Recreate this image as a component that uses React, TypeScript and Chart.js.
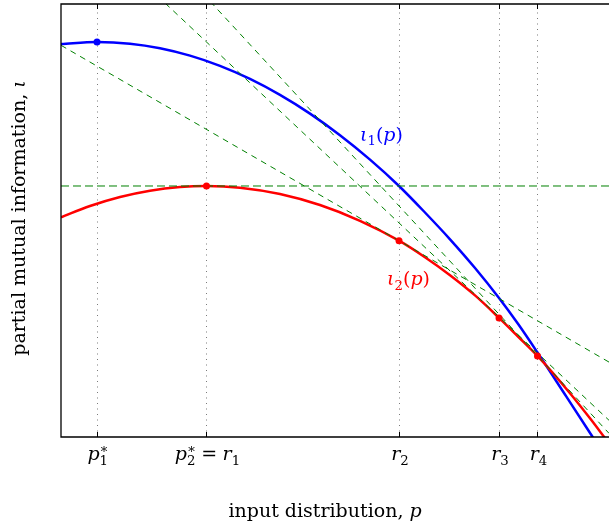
import React, { useEffect, useRef } from "react";
import { Chart, registerables } from "chart.js";

Chart.register(...registerables);

// ---------------- data (abstract units: p along x in [0,1], information along y in [0,1]) ----------------
const blueP = [0, 0.0657, 0.1259, 0.1807, 0.2354, 0.2901, 0.3449, 0.3996, 0.4544, 0.5091, 0.5639, 0.6168, 0.6642, 0.7099, 0.7555, 0.7993, 0.8339, 0.8686, 0.9197, 0.969, 0.9836];
const blueI = [0.9075, 0.9122, 0.9083, 0.8978, 0.8807, 0.8571, 0.8269, 0.7901, 0.7468, 0.6969, 0.6405, 0.5797, 0.5185, 0.4566, 0.3903, 0.321, 0.2614, 0.1968, 0.0982, 0.0023, -0.0266];

const redP = [0, 0.0529, 0.1077, 0.1624, 0.2172, 0.2655, 0.3266, 0.3996, 0.4726, 0.5456, 0.6168, 0.6642, 0.7099, 0.7555, 0.7993, 0.8339, 0.8695, 0.9288, 0.9653, 0.9927];
const redI = [0.5075, 0.5334, 0.5542, 0.5688, 0.5773, 0.5797, 0.5758, 0.5612, 0.5357, 0.4993, 0.4534, 0.4152, 0.3737, 0.327, 0.2751, 0.2321, 0.1873, 0.1012, 0.0432, -0.0025];

// tangent lines, given by their value at p = 0 and p = 1
const tangentP = [0, 1];
const tangentR1 = [0.5797, 0.5797];
const tangentR2 = [0.9046, 0.173];
const tangentR3 = [1.228, 0.0386];
const tangentR4 = [1.379, 0.0085];

const peakP = [0.0657];
const peakI = [0.9122];
const touchP = [0.2655, 0.6168, 0.7993, 0.8695];
const touchI = [0.5797, 0.4534, 0.2751, 0.1873];

const tickValues = [0.0657, 0.2655, 0.6168, 0.7993, 0.8695];
const tickLabels = ["$p₁*$", "$p₂* = r₁$", "$r₂$", "$r₃$", "$r₄$"];
const xTitle = "input distribution, $p$";
const yTitle = "partial mutual information, $ι$";
const curveLabels = ["$ι₁(p)$", "$ι₂(p)$"];
const curveLabelP = [0.5456, 0.595];
const curveLabelI = [0.684, 0.351];

// ---------------- rich text helper ----------------
const FONT = '"DejaVu Serif", "Liberation Serif", serif';
const SUBS: Record<string, string> = {
  "₀": "0", "₁": "1", "₂": "2", "₃": "3", "₄": "4", "₅": "5", "₆": "6", "₇": "7", "₈": "8", "₉": "9",
};
type G = { t: string; font: string; x: number; dy: number };

function layoutRich(ctx: CanvasRenderingContext2D, s: string, size: number) {
  const rm = `${size}px ${FONT}`;
  const it = `italic ${size}px ${FONT}`;
  const sm = `${(size * 0.7).toFixed(1)}px ${FONT}`;
  const glyphs: G[] = [];
  let x = 0;
  let math = false;
  let subStart = -1;
  let subW = 0;
  let buf = "";
  const put = (t: string, font: string, dy: number, at?: number) => {
    ctx.font = font;
    const w = ctx.measureText(t).width;
    glyphs.push({ t, font, x: at ?? x, dy });
    return w;
  };
  const flush = () => {
    if (buf) {
      x += put(buf, rm, 0);
      buf = "";
    }
  };
  for (const ch of Array.from(s)) {
    if (ch === "$") {
      flush();
      math = !math;
      continue;
    }
    if (!math) {
      buf += ch;
      continue;
    }
    if (SUBS[ch]) {
      subStart = x;
      subW = put(SUBS[ch], sm, size * 0.24);
      x += subW;
      continue;
    }
    if (ch === "*") {
      if (subStart >= 0) {
        const w = put("∗", sm, -size * 0.36, subStart);
        x = subStart + Math.max(subW, w);
      } else {
        x += put("∗", sm, -size * 0.36);
      }
      subStart = -1;
      continue;
    }
    subStart = -1;
    if (ch === " ") {
      x += size * 0.28;
      continue;
    }
    if (/[A-Za-z\u03b1-\u03c9]/.test(ch)) x += put(ch, it, 0);
    else x += put(ch, rm, 0);
  }
  flush();
  return { glyphs, width: x };
}

function drawRich(
  ctx: CanvasRenderingContext2D,
  s: string,
  size: number,
  x: number,
  y: number,
  align: "left" | "center",
  color: string
) {
  const { glyphs, width } = layoutRich(ctx, s, size);
  const x0 = align === "center" ? x - width / 2 : x;
  ctx.fillStyle = color;
  ctx.textAlign = "left";
  ctx.textBaseline = "alphabetic";
  for (const g of glyphs) {
    ctx.font = g.font;
    ctx.fillText(g.t, x0 + g.x, y + g.dy);
  }
}

const decorPlugin = {
  id: "decor",
  beforeDatasetsDraw(chart: any) {
    const { ctx, chartArea: a, scales } = chart;
    ctx.save();
    ctx.strokeStyle = "#7a7a7a";
    ctx.lineWidth = 1;
    ctx.setLineDash([1, 4.5]);
    for (const v of tickValues) {
      const px = Math.round(scales.x.getPixelForValue(v)) + 0.5;
      ctx.beginPath();
      ctx.moveTo(px, a.bottom);
      ctx.lineTo(px, a.top);
      ctx.stroke();
    }
    ctx.restore();
  },
  afterDatasetsDraw(chart: any) {
    const { ctx, chartArea: a, scales } = chart;
    ctx.save();
    ctx.setLineDash([]);
    ctx.strokeStyle = "#000";
    ctx.lineWidth = 1.3;
    ctx.beginPath();
    ctx.moveTo(a.right + 2, a.top);
    ctx.lineTo(a.left, a.top);
    ctx.lineTo(a.left, a.bottom);
    ctx.lineTo(a.right + 2, a.bottom);
    ctx.stroke();
    ctx.lineWidth = 1;
    for (const v of tickValues) {
      const px = Math.round(scales.x.getPixelForValue(v)) + 0.5;
      ctx.beginPath();
      ctx.moveTo(px, a.bottom);
      ctx.lineTo(px, a.bottom - 5);
      ctx.moveTo(px, a.top);
      ctx.lineTo(px, a.top + 5);
      ctx.stroke();
    }
    const size = 19;
    tickValues.forEach((v, i) => {
      drawRich(ctx, tickLabels[i], size, scales.x.getPixelForValue(v) + 1, a.bottom + 23, "center", "#000");
    });
    drawRich(ctx, xTitle, size, a.left + 0.4818 * (a.right - a.left), a.bottom + 80, "center", "#000");
    ctx.save();
    ctx.translate(25, (a.top + a.bottom) / 2 - 2.5);
    ctx.rotate(-Math.PI / 2);
    drawRich(ctx, yTitle, size, 0, 0, "center", "#000");
    ctx.restore();
    const colors = ["#0000ff", "#ff0000"];
    curveLabels.forEach((t, i) => {
      drawRich(
        ctx,
        t,
        size,
        scales.x.getPixelForValue(curveLabelP[i]),
        scales.y.getPixelForValue(curveLabelI[i]),
        "left",
        colors[i]
      );
    });
    ctx.restore();
  },
};

const pts = (xs: number[], ys: number[]) => xs.map((x, i) => ({ x, y: ys[i] }));

export default function App() {
  const ref = useRef<HTMLCanvasElement>(null);
  useEffect(() => {
    const canvas = ref.current;
    if (!canvas) return;
    const green = "rgb(0,128,0)";
    const tangent = (vals: number[], dash: number[]) => ({
      data: pts(tangentP, vals),
      showLine: true,
      borderColor: green,
      borderWidth: 1,
      borderDash: dash,
      pointRadius: 0,
      clip: 0,
      order: 1,
    });
    const chart = new Chart(canvas, {
      type: "scatter",
      data: {
        datasets: [
          {
            data: pts(peakP, peakI),
            pointRadius: 3.5,
            backgroundColor: "#0000ff",
            borderWidth: 0,
            clip: false,
            order: 0,
          } as any,
          {
            data: pts(touchP, touchI),
            pointRadius: 3.5,
            backgroundColor: "#ff0000",
            borderWidth: 0,
            clip: false,
            order: 0,
          },
          tangent(tangentR1, [8, 4]),
          tangent(tangentR2, [6, 5]),
          tangent(tangentR3, [6, 5]),
          tangent(tangentR4, [6, 5]),
          {
            data: pts(redP, redI),
            showLine: true,
            borderColor: "#ff0000",
            borderWidth: 2.5,
            pointRadius: 0,
            cubicInterpolationMode: "monotone",
            clip: 0,
            order: 2,
          },
          {
            data: pts(blueP, blueI),
            showLine: true,
            borderColor: "#0000ff",
            borderWidth: 2.5,
            pointRadius: 0,
            cubicInterpolationMode: "monotone",
            clip: 0,
            order: 3,
          },
        ],
      },
      options: {
        animation: false,
        responsive: false,
        devicePixelRatio: 1,
        events: [],
        layout: { autoPadding: false, padding: { left: 61, top: 4, right: 0, bottom: 92 } },
        scales: {
          x: { type: "linear", min: 0, max: 1, display: false },
          y: { type: "linear", min: 0, max: 1, display: false },
        },
        plugins: { legend: { display: false }, tooltip: { enabled: false } },
      },
      plugins: [decorPlugin],
    });
    return () => chart.destroy();
  }, []);
  return (
    <div style={{ position: "absolute", left: 0, top: 0, width: 609, height: 529, background: "#fff" }}>
      <canvas ref={ref} width={609} height={529} style={{ display: "block", width: 609, height: 529 }} />
    </div>
  );
}
